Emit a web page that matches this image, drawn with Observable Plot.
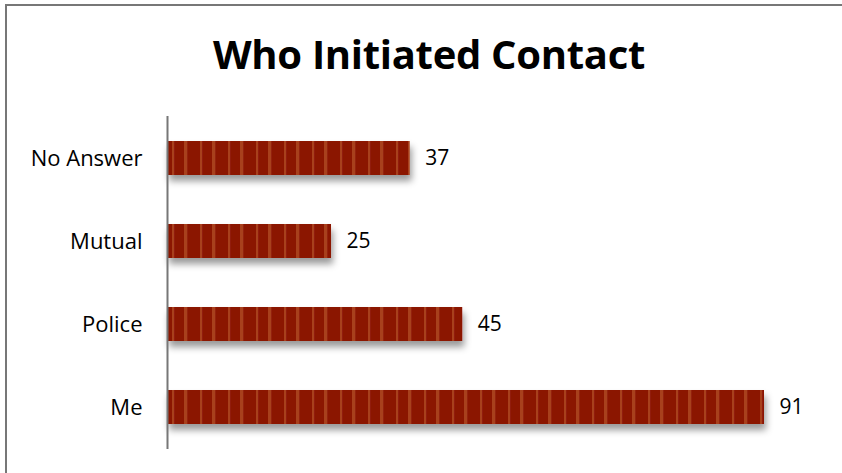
<!DOCTYPE html>
<html>
<head>
<meta charset="utf-8">
<script src="https://cdn.jsdelivr.net/npm/d3@7"></script>
<script src="https://cdn.jsdelivr.net/npm/@observablehq/plot@0.6"></script>
<style>
  html, body { margin: 0; padding: 0; background: #fff; }
  #wrap { position: relative; width: 842px; height: 473px; overflow: hidden; font-family: "Open Sans", sans-serif; }
  #frame { position: absolute; left: 5px; top: 4px; width: 900px; height: 600px; border-left: 2px solid #777; border-top: 2px solid #777; box-sizing: border-box; }
  #title { position: absolute; left: 0; width: 858px; top: 29px; text-align: center; font-family: "Open Sans", sans-serif; font-weight: 700; font-size: 40px; line-height: 50px; color: #000; letter-spacing: -0.3px; }
  #chart { position: absolute; left: 0; top: 0; }
</style>
</head>
<body>
<div id="wrap">
  <div id="frame"></div>
  <div id="title">Who Initiated Contact</div>
  <div id="chart"></div>
</div>
<script>
const categories = ["No Answer", "Mutual", "Police", "Me"];
const values = [37, 25, 45, 91];

const data = categories.map((c, i) => ({category: c, value: values[i]}));

const plot = Plot.plot({
  width: 842,
  height: 473,
  marginLeft: 167,
  marginRight: 78,
  marginTop: 116,
  marginBottom: 24,
  style: {fontFamily: "Open Sans, sans-serif", fontSize: "22px", color: "#000", background: "transparent"},
  x: {domain: [0, 91], axis: null},
  y: {domain: categories, paddingInner: 0.59, paddingOuter: 0.295, label: null, tickSize: 0, tickPadding: 25},
  marks: [
    Plot.barX(data, {x: "value", y: "category", fill: "url(#stripes)"}),
    Plot.text(data, {x: "value", y: "category", text: d => String(d.value), textAnchor: "start", dx: 15, fontSize: 21, fill: "#000"}),
    Plot.ruleX([0], {stroke: "#777", strokeWidth: 2})
  ]
});

const svg = d3.select(plot);
const defs = svg.insert("defs", ":first-child");
const pat = defs.append("pattern")
  .attr("id", "stripes").attr("patternUnits", "userSpaceOnUse")
  .attr("x", 167).attr("y", 0).attr("width", 28).attr("height", 10);
pat.append("rect").attr("width", 28).attr("height", 10).attr("fill", "#8b1502");
pat.append("rect").attr("x", 5).attr("width", 2.2).attr("height", 10).attr("fill", "#a8401c");
pat.append("rect").attr("x", 17).attr("width", 3.3).attr("height", 10).attr("fill", "#a8401c");
const filt = defs.append("filter").attr("id", "shadow").attr("x", "-5%").attr("y", "-20%").attr("width", "115%").attr("height", "160%");
filt.append("feDropShadow").attr("dx", 2).attr("dy", 6).attr("stdDeviation", 3.5).attr("flood-color", "#000").attr("flood-opacity", 0.4);
svg.selectAll("g[aria-label='bar'] rect").attr("filter", "url(#shadow)");
svg.selectAll("g[aria-label='y-axis tick label'] text").attr("fill", "#000");

document.getElementById("chart").appendChild(plot);
</script>
</body>
</html>
